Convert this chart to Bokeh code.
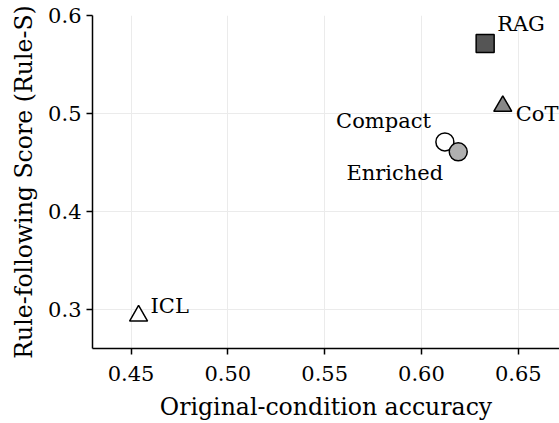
from bokeh.plotting import figure
from bokeh.models import ColumnDataSource, LabelSet, FixedTicker
from bokeh.core.properties import value
from bokeh.embed import file_html
from bokeh.resources import INLINE

methods = ["ICL", "Compact", "Enriched", "RAG", "CoT"]
accuracy = [0.4539, 0.6121, 0.6190, 0.6329, 0.6420]
rule_s = [0.2935, 0.4710, 0.4609, 0.5714, 0.5075]
markers = ["triangle", "circle", "circle", "square", "triangle"]
fills = ["#ffffff", "#ffffff", "#b0b0b0", "#555555", "#888888"]
# label placement (pixel offsets / alignment)
label_dx = [12, -14, -15, 12, 13]
label_dy = [10, 21, -21, 20, -8]
label_align = ["left", "right", "right", "left", "left"]

x_ticks = [0.45, 0.50, 0.55, 0.60, 0.65]
y_ticks = [0.3, 0.4, 0.5, 0.6]

FONT = "DejaVu Serif"

p = figure(width=559, height=423, output_backend="svg", toolbar_location=None,
           x_range=(0.4301, 0.6713), y_range=(0.2602, 0.6),
           min_border_left=92, min_border_right=0, min_border_top=15, min_border_bottom=71)
p.outline_line_color = None
p.background_fill_color = "white"
p.border_fill_color = "white"

src = ColumnDataSource(dict(x=accuracy, y=rule_s, name=methods, marker=markers, fill=fills,
                            dx=label_dx, dy=label_dy, align=label_align))
p.scatter(x="x", y="y", source=src, marker="marker", size=18, fill_color="fill",
          line_color="black", line_width=1.5)

labels = LabelSet(x="x", y="y", text="name", source=src, x_offset="dx", y_offset="dy",
                  text_align="align", text_baseline="middle", text_font=value(FONT),
                  text_font_size="21px", text_color="black")
p.add_layout(labels)

for ax in (p.xaxis, p.yaxis):
    ax.axis_line_width = 1.5
    ax.axis_line_color = "black"
    ax.major_tick_line_color = "black"
    ax.major_tick_line_width = 1.5
    ax.major_tick_out = 6
    ax.major_tick_in = 0
    ax.minor_tick_line_color = None
    ax.major_label_text_font = FONT
    ax.major_label_text_font_size = "21px"
    ax.major_label_text_color = "black"
    ax.axis_label_text_font = FONT
    ax.axis_label_text_font_size = "23.6px"
    ax.axis_label_text_font_style = "normal"
    ax.axis_label_text_color = "black"

p.xaxis.ticker = FixedTicker(ticks=x_ticks)
p.yaxis.ticker = FixedTicker(ticks=y_ticks)
p.xaxis.major_label_overrides = {t: f"{t:.2f}" for t in x_ticks}
p.yaxis.major_label_overrides = {t: f"{t:.1f}" for t in y_ticks}
p.xaxis.axis_label = "Original-condition accuracy"
p.yaxis.axis_label = "Rule-following Score (Rule-S)"
p.xaxis.major_label_standoff = 11
p.yaxis.major_label_standoff = 5
p.xaxis.axis_label_standoff = 9
p.yaxis.axis_label_standoff = 7

p.grid.grid_line_color = "#ebebeb"
p.grid.grid_line_width = 1

open("out.html", "w").write(file_html(p, INLINE))
